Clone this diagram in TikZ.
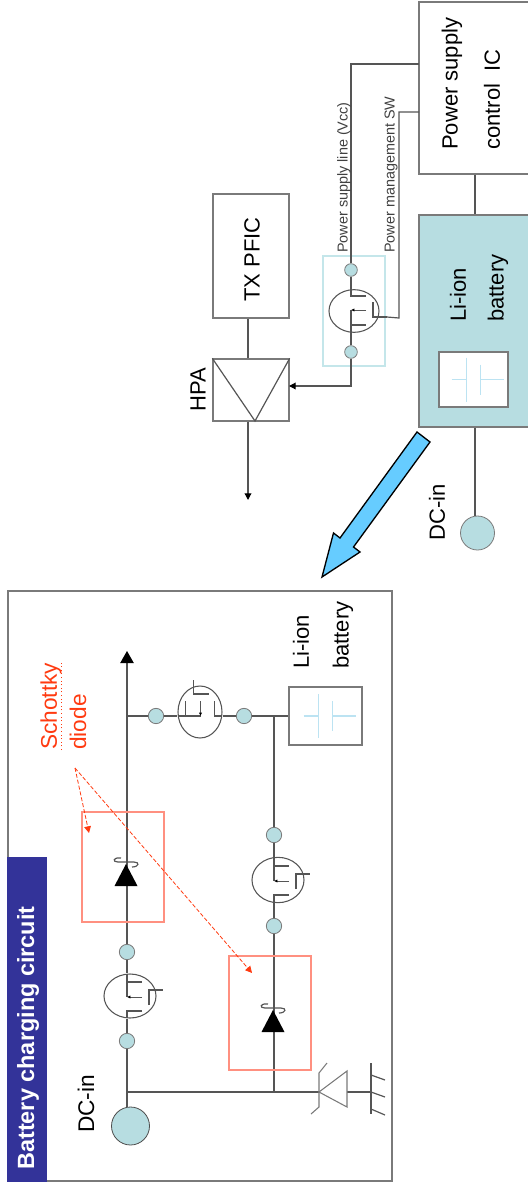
\documentclass[tikz,border=0pt]{standalone}
\usepackage{fontspec}
\setmainfont{Liberation Sans}
\usetikzlibrary{arrows.meta, shapes.geometric}
\definecolor{wiregray}{HTML}{555555}
\definecolor{boxgray}{HTML}{7A7A7A}
\definecolor{tealfill}{HTML}{B7DDE1}
\definecolor{tealline}{HTML}{C4E6EA}
\definecolor{cellblue}{HTML}{BCE3F2}
\definecolor{barblue}{HTML}{333399}
\definecolor{arrowblue}{HTML}{66CCFF}
\definecolor{redbox}{HTML}{FF9080}
\definecolor{redtext}{HTML}{FF3A10}
\tikzset{
  wire/.style = {
    draw=wiregray,
    line width=0.9pt
  },
  block/.style = {
    rectangle,
    draw=boxgray,
    line width=1pt,
    inner sep=0pt
  },
  redframe/.style = {
    rectangle,
    draw=redbox,
    line width=0.9pt,
    inner sep=0pt
  },
  dot/.style = {
    circle,
    draw=boxgray,
    line width=0.6pt,
    fill=tealfill,
    minimum size=11.5pt,
    inner sep=0pt
  },
  fetbody/.style = {
    ellipse,
    draw=wiregray,
    line width=0.8pt,
    inner sep=0pt
  },
  vlabel/.style = {
    rotate=90,
    anchor=west,
    inner sep=0pt
  },
  bigfont/.style = {
    font=\fontsize{16.5}{16.5}\selectfont
  },
  smallfont/.style = {
    font=\fontsize{10.8}{10.8}\selectfont,
    text=black!75
  },
  fetsym/.pic = {
    \draw[wire] (-3,-22) -- (-3,1);
    \draw[wire] (-3,-14) -- (12,-14);
    \draw[wire, line width=0.7pt, -{Latex[length=2.5pt,width=2.5pt,color=black]}] (12,1) -- (-3,1);
    \draw[wire] (19,9) -- (19,-6) -- (33,-6);
    \draw[wire] (12,15) -- (-3,15) -- (-3,22);
    \coordinate (-gate) at (33,-6);
  },
  schottkysym/.pic = {
    \fill[black] (0,-11) -- (11.5,11) -- (-11.5,11) -- cycle;
    \draw[wire] (-5,-17) .. controls (-13,-18) and (-14,-13) .. (-8,-13) -- (8,-13) .. controls (14,-13) and (13,-8) .. (6,-8);
  },
  cellsym/.pic = {
    \draw[cellblue, line width=0.9pt] (-22,0) -- (-7,0) (-7,-22) -- (-7,22);
    \draw[cellblue, line width=0.9pt] (7,0) -- (30,0) (7,-15) -- (7,15);
  }
}

\begin{document}
\begin{tikzpicture}[x=0.75pt,y=-0.75pt]
  \useasboundingbox (0,0) rectangle (528,1188);

  % upper drawing
  \node[block, minimum width=84pt, minimum height=129pt] (icbox) at (475,88) {};
  \node[block, fill=tealfill, minimum width=84pt, minimum height=159pt] (battbox) at (475,321) {};
  \node[block, fill=white, minimum width=51.75pt, minimum height=41.25pt] (cella) at (473.5,379.5) {};
  \pic at (cella.center) {cellsym};
  \node[block, minimum width=57pt, minimum height=93pt] (txpfic) at (251,256) {};
  \node[block, minimum width=57pt, minimum height=46.5pt] (hpa) at (251,390) {};
  \node[rectangle, draw=tealline, line width=0.8pt, minimum width=46.5pt, minimum height=82.5pt] (fetframe) at (354,311) {};
  \node[fetbody, minimum width=37.5pt, minimum height=32pt] (feta) at (354,311) {};
  \pic[yscale=-1] (fetasym) at (feta.center) {fetsym};
  \node[dot, minimum size=9.5pt] (dota) at (351,270) {};
  \node[dot, minimum size=9.5pt] (dotb) at (351,352) {};
  \node[dot, minimum size=25.5pt] (dcina) at (477.5,533) {};

  \coordinate (vccin) at (419,64);
  \coordinate (swin) at (419,112);
  \coordinate (swbend) at (399,318);
  \coordinate (hpain) at (289,386);
  \coordinate (hpaout) at (248,500);
  \coordinate (hpatip) at (255,421);

  \draw[wire] (dota) |- (vccin);
  \draw[wire] (dota) -- (dota |- feta.north);
  \draw[wire] (dotb) -- (dotb |- feta.south);
  \draw[wire] (fetasym-gate) -- (swbend) |- (swin);
  \draw[wire, -{Triangle[length=5pt,width=5pt,color=black]}] (dotb) |- (hpain);
  \draw[wire] (icbox.south) -- (battbox.north);
  \draw[wire] (battbox.south) -- (battbox.south |- dcina.north);
  \draw[wire] ([xshift=-2.25pt]txpfic.south) -- ([xshift=-2.25pt]hpa.north);
  \draw[wire, -{Triangle[length=5pt,width=5pt,color=black]}] ([xshift=-2.25pt]hpa.south) -- (hpaout);
  \draw[wire] (hpa.north west) -- (hpatip) -- (hpa.north east);

  \node[vlabel, bigfont] (pwr) at (452,150) {Power supply};
  \node[vlabel, bigfont] (ctl) at (492,150) {control\ \ IC};
  \node[vlabel, bigfont] (lia) at (458,322) {Li-ion};
  \node[vlabel, bigfont] (bta) at (498,322) {battery};
  \node[vlabel, bigfont] (dca) at (437,541) {DC-in};
  \node[vlabel, bigfont] (txt) at (252,302) {TX PFIC};
  \node[rotate=90, bigfont, inner sep=0pt] (hpatxt) at (198,390) {HPA};
  \node[vlabel, smallfont] (vcc) at (344,253) {Power supply line (Vcc)};
  \node[vlabel, smallfont] (sw) at (391,253) {Power management SW};

  % arrow between the two drawings
  \draw[fill=arrowblue, draw=black, line width=1pt, line join=miter]
    (417,432) -- (430,442) -- (353.5,547) -- (360,552) -- (322,577) -- (333.5,533) -- (340,538) -- cycle;

  % lower drawing
  \node[rectangle, draw=boxgray, line width=1.1pt, minimum width=288pt, minimum height=442.5pt] (frame) at (200,886) {};
  \fill[barblue] (frame.south west) rectangle (47,857);
  \node[vlabel, font=\fontsize{17.6}{17.6}\selectfont\bfseries, text=white] (title) at (28,1170) {Battery charging circuit};

  \node[dot, minimum size=28.5pt, draw=black!70] (dcinb) at (130.5,1126) {};
  \node[dot] (dotc) at (127,1041) {};
  \node[dot] (dotd) at (127,952) {};
  \node[dot] (dote) at (156,716) {};
  \node[dot] (dotf) at (244,716) {};
  \node[dot] (dotg) at (274,835) {};
  \node[dot] (doth) at (274,926) {};
  \node[fetbody, minimum width=39pt, minimum height=33pt] (fetb) at (130,996) {};
  \pic (fetbsym) at (fetb.center) {fetsym};
  \node[fetbody, minimum width=39pt, minimum height=34pt] (fetc) at (278,880) {};
  \pic (fetcsym) at (277,880) {fetsym};
  \node[fetbody, minimum width=33pt, minimum height=39pt] (fetd) at (200,712) {};
  \pic[rotate=90] (fetdsym) at (199.5,713) {fetsym};
  \node[block, minimum width=54.75pt, minimum height=43.5pt] (cellb) at (325.5,716) {};
  \pic at (cellb.center) {cellsym};

  \coordinate (junca) at (127,1092);
  \coordinate (juncb) at (127,716);
  \coordinate (juncc) at (274,716);
  \coordinate (juncd) at (274,1092);
  \coordinate (maintip) at (127,651);
  \coordinate (zentip) at (319,1092);
  \coordinate (zenbase) at (347,1092);
  \coordinate (gndbar) at (371,1092);

  \draw[wire] (junca |- dcinb.north) -- (dotc);
  \draw[wire] (dotc) -- (dotc |- fetb.south);
  \draw[wire] (dotd) -- (dotd |- fetb.north);
  \draw[wire] (dotd) -- (juncb);
  \draw[wire, -{Triangle[length=9pt,width=10pt,color=black]}] (juncb) -- (maintip);
  \draw[wire] (juncb) -- (dote);
  \draw[wire] (dote) -- (dote -| fetd.west);
  \draw[wire] (dotf) -- (dotf -| fetd.east);
  \draw[wire] (dotf) -- (cellb.west);
  \draw[wire] (juncc) -- (dotg);
  \draw[wire] (dotg) -- (dotg |- fetc.north);
  \draw[wire] (doth) -- (doth |- fetc.south);
  \draw[wire] (doth) -- (juncd);
  \draw[wire] (junca) -- (zentip);
  \draw[wire] (zenbase) -- (gndbar);

  \pic at (126,875) {schottkysym};
  \pic at (273,1021) {schottkysym};
  \node[redframe, minimum width=61.5pt, minimum height=82.5pt] (schbox) at (123,867) {};
  \node[redframe, minimum width=61.5pt, minimum height=85.5pt] (schboxb) at (270,1013) {};

  % zener and ground
  \draw[boxgray, line width=0.8pt] (zentip) -- (347,1071) -- (347,1107) -- cycle;
  \draw[boxgray, line width=0.8pt] (327,1063) -- (319,1073) -- (319,1107) -- (311,1114);
  \draw[wiregray, line width=0.9pt] (371,1063) -- (371,1114);
  \draw[wiregray, line width=0.9pt] (371,1075) -- (385,1080) (371,1092) -- (385,1097) (371,1109) -- (385,1115);

  \node[vlabel, bigfont] (lib) at (301,669) {Li-ion};
  \node[vlabel, bigfont] (btb) at (343,669) {battery};
  \node[vlabel, font=\fontsize{17}{17}\selectfont] (dcb) at (86,1133) {DC-in};
  \node[vlabel, font=\fontsize{17}{17}\selectfont, text=redtext] (sch) at (51,750) {Schottky};
  \node[vlabel, font=\fontsize{17}{17}\selectfont, text=redtext] (dio) at (78,750) {diode};
  \draw[redtext, dotted, line width=0.7pt] (61,750) -- (61,663);

  \coordinate (schsrc) at (75,768);
  \coordinate (schenda) at (89,833);
  \coordinate (schendb) at (252,973);
  \draw[redtext, dash pattern=on 3pt off 1.5pt, line width=0.6pt, -{Triangle[length=5pt,width=5pt]}] (schsrc) -- (schenda);
  \draw[redtext, dash pattern=on 3pt off 1.5pt, line width=0.6pt, -{Triangle[length=5pt,width=5pt]}] (schsrc) -- (schendb);
\end{tikzpicture}
\end{document}
